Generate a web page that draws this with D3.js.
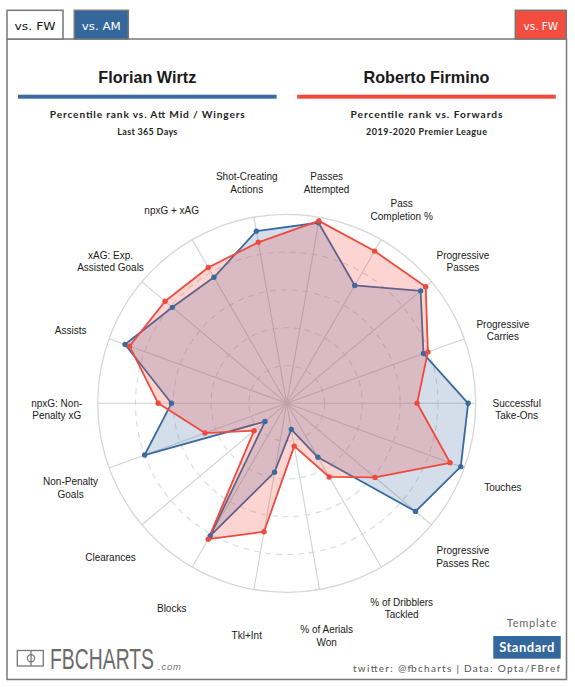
<!DOCTYPE html>
<html>
<head>
<meta charset="utf-8">
<script src="https://cdnjs.cloudflare.com/ajax/libs/d3/7.8.5/d3.min.js"></script>
<style>
  html, body { margin: 0; padding: 0; background: #fff; }
  svg { display: block; }
</style>
</head>
<body>
<script>
// ---------- DATA ----------
const categories = [
  "Passes Attempted", "Pass Completion %", "Progressive Passes", "Progressive Carries",
  "Successful Take-Ons", "Touches", "Progressive Passes Rec", "% of Dribblers Tackled",
  "% of Aerials Won", "Tkl+Int", "Blocks", "Clearances", "Non-Penalty Goals",
  "npxG: Non-Penalty xG", "Assists", "xAG: Exp. Assisted Goals", "npxG + xAG",
  "Shot-Creating Actions"
];
const categoryLines = [
  ["Passes", "Attempted"], ["Pass", "Completion %"], ["Progressive", "Passes"],
  ["Progressive", "Carries"], ["Successful", "Take-Ons"], ["Touches"],
  ["Progressive", "Passes Rec"], ["% of Dribblers", "Tackled"], ["% of Aerials", "Won"],
  ["Tkl+Int"], ["Blocks"], ["Clearances"], ["Non-Penalty", "Goals"],
  ["npxG: Non-", "Penalty xG"], ["Assists"], ["xAG: Exp.", "Assisted Goals"],
  ["npxG + xAG"], ["Shot-Creating", "Actions"]
];
const wirtzValues   = [97, 72, 92.5, 77, 96, 98, 89, 33, 14, 37, 81, 15, 80, 61, 91, 79, 77, 92.5];
const firminoValues = [98, 93, 96, 79.5, 69, 92, 61, 45, 23, 69, 83, 22.5, 46, 68, 88.5, 84, 83, 86.5];
const gridLevels = [20, 40, 60, 80, 100];

const players = [
  { name: "Florian Wirtz", sub1: "Percentile rank vs. Att Mid / Wingers", sub2: "Last 365 Days", values: wirtzValues },
  { name: "Roberto Firmino", sub1: "Percentile rank vs. Forwards", sub2: "2019-2020 Premier League", values: firminoValues }
];
const tabLabels = ["vs. FW", "vs. AM", "vs. FW"];

// ---------- STYLE ----------
const BLUE = "#3a6a9e", RED = "#ef4a3d", TABBLUE = "#34679b", TABRED = "#f34d3f";
const W = 575, H = 687;
const cx = 286.7, cy = 403.3, R = 189;

const svg = d3.select("body").append("svg").attr("width", W).attr("height", H);
svg.append("rect").attr("width", W).attr("height", H).attr("fill", "#fff");

// frame + tabs
svg.append("rect").attr("x", 7).attr("y", 39).attr("width", 559.5).attr("height", 640.5)
  .attr("fill", "none").attr("stroke", "#777").attr("stroke-width", 1.5);
const tabs = [
  { x: 7, w: 56, fill: "#fff", color: "#111", text: tabLabels[0], len: 41 },
  { x: 74.3, w: 54, fill: TABBLUE, color: "#fff", text: tabLabels[1], len: 39 },
  { x: 515.3, w: 51, fill: TABRED, color: "#fff", text: tabLabels[2], len: 34.5 }
];
tabs.forEach(t => {
  svg.append("rect").attr("x", t.x).attr("y", 10.3).attr("width", t.w).attr("height", 28.7)
    .attr("fill", t.fill).attr("stroke", "#777").attr("stroke-width", 1.5);
  svg.append("text").attr("x", t.x + t.w / 2).attr("y", 29.5).attr("text-anchor", "middle")
    .attr("font-family", "DejaVu Sans").attr("font-size", 11).attr("fill", t.color)
    .attr("textLength", t.len).attr("lengthAdjust", "spacingAndGlyphs").text(t.text);
});

// headers
const headerX = [147.3, 426.5];
const lineColors = [BLUE, RED];
const sub1Len = [195, 152], sub2Len = [60, 121];
players.forEach((p, i) => {
  const x = headerX[i];
  svg.append("text").attr("x", x).attr("y", 82.7).attr("text-anchor", "middle")
    .attr("font-family", "Liberation Sans, Arial, sans-serif").attr("font-weight", "bold")
    .attr("font-size", 16.2).attr("fill", "#1a1a1a").text(p.name);
  svg.append("rect").attr("x", x - 129.3).attr("y", 94.7).attr("width", 258.6).attr("height", 4)
    .attr("fill", lineColors[i]);
  svg.append("text").attr("x", x).attr("y", 118.3).attr("text-anchor", "middle")
    .attr("font-family", "Lato, sans-serif").attr("font-weight", "bold")
    .attr("font-size", 10.2).attr("fill", "#222")
    .attr("textLength", sub1Len[i]).attr("lengthAdjust", "spacing").text(p.sub1);
  svg.append("text").attr("x", x).attr("y", 135.3).attr("text-anchor", "middle")
    .attr("font-family", "Lato, sans-serif").attr("font-weight", "bold")
    .attr("font-size", 9).attr("fill", "#222")
    .attr("textLength", sub2Len[i]).attr("lengthAdjust", "spacing").text(p.sub2);
});

// ---------- RADAR ----------
const n = categories.length;
const rScale = d3.scaleLinear().domain([0, 100]).range([0, R]);
const angle = d3.scaleLinear().domain([0, n]).range([0, 2 * Math.PI]);
const axisAngle = i => angle(i + 0.5);

const g = svg.append("g").attr("transform", `translate(${cx},${cy})`);

// grid circles
g.selectAll("circle.grid").data(gridLevels).enter().append("circle")
  .attr("class", "grid").attr("r", d => rScale(d)).attr("fill", "none")
  .attr("stroke", d => d === 100 ? "#d6d6d6" : "#dadada")
  .attr("stroke-width", d => d === 100 ? 1.3 : 1.1)
  .attr("stroke-dasharray", d => d === 100 ? null : "6,5");

// spokes
g.selectAll("line.spoke").data(categories).enter().append("line")
  .attr("class", "spoke")
  .attr("x1", 0).attr("y1", 0)
  .attr("x2", (d, i) => rScale(100) * Math.sin(axisAngle(i)))
  .attr("y2", (d, i) => -rScale(100) * Math.cos(axisAngle(i)))
  .attr("stroke", "#d2d2d2").attr("stroke-width", 1.1);

const radial = d3.lineRadial()
  .angle((d, i) => axisAngle(i))
  .radius(d => rScale(d))
  .curve(d3.curveLinearClosed);

const series = [
  { values: wirtzValues, color: BLUE, fill: "rgba(56,104,159,0.22)" },
  { values: firminoValues, color: RED, fill: "rgba(240,75,63,0.23)" }
];
series.forEach(s => {
  g.append("path").attr("d", radial(s.values)).attr("fill", s.fill)
    .attr("stroke", s.color).attr("stroke-width", 1.8).attr("stroke-linejoin", "round");
});
series.forEach(s => {
  g.selectAll(null).data(s.values).enter().append("circle")
    .attr("cx", (d, i) => rScale(d) * Math.sin(axisAngle(i)))
    .attr("cy", (d, i) => -rScale(d) * Math.cos(axisAngle(i)))
    .attr("r", 2.7).attr("fill", s.color);
});

// axis labels
const labelR = 230, lineH = 12.5;
categoryLines.forEach((lines, i) => {
  const a = axisAngle(i);
  const px = labelR * Math.sin(a), py = -labelR * Math.cos(a) + 6;
  const t = g.append("text").attr("text-anchor", "middle")
    .attr("font-family", "Liberation Sans, Arial, sans-serif").attr("font-size", 10)
    .attr("fill", "#1a1a1a");
  lines.forEach((ln, k) => {
    t.append("tspan").attr("x", px)
      .attr("y", py + (k - (lines.length - 1) / 2) * lineH)
      .attr("dominant-baseline", "central").text(ln);
  });
});

// ---------- FOOTER ----------
const logo = svg.append("g");
logo.append("rect").attr("x", 17.3).attr("y", 650.5).attr("width", 26).attr("height", 15.5)
  .attr("fill", "none").attr("stroke", "#777").attr("stroke-width", 1.3);
logo.append("line").attr("x1", 31).attr("x2", 31).attr("y1", 650.5).attr("y2", 666)
  .attr("stroke", "#777").attr("stroke-width", 1.3);
logo.append("circle").attr("cx", 31).attr("cy", 658.2).attr("r", 3.6)
  .attr("fill", "none").attr("stroke", "#777").attr("stroke-width", 1.2);
const logoText = logo.append("g").attr("transform", "translate(50,669.3) scale(0.665,1)");
const lt = logoText.append("text").attr("x", 0).attr("y", 0)
  .attr("font-family", "Liberation Sans, Arial, sans-serif").attr("font-size", 29)
  .attr("fill", "#6a6a6a").text("FBCHARTS");
// fit to the logo's width through a scale of the group
const natural = lt.node().getComputedTextLength();
logoText.attr("transform", `translate(50,669.3) scale(${104 / natural},1)`);
logo.append("text").attr("x", 158).attr("y", 670)
  .attr("font-family", "Liberation Sans, Arial, sans-serif").attr("font-style", "italic")
  .attr("font-size", 9.5).attr("fill", "#777").attr("letter-spacing", 0.8).text(".com");

svg.append("text").attr("x", 557).attr("y", 627.3).attr("text-anchor", "end")
  .attr("font-family", "Lato, sans-serif").attr("font-size", 11).attr("letter-spacing", 0.8)
  .attr("fill", "#666").text("Template");
svg.append("rect").attr("x", 493.3).attr("y", 636).attr("width", 67.4).attr("height", 22.7)
  .attr("fill", TABBLUE);
svg.append("text").attr("x", 527).attr("y", 651.8).attr("text-anchor", "middle")
  .attr("font-family", "Lato, sans-serif").attr("font-weight", "bold").attr("font-size", 13)
  .attr("fill", "#fff").attr("letter-spacing", 0.5).text("Standard");
svg.append("text").attr("x", 560).attr("y", 672.3).attr("text-anchor", "end")
  .attr("font-family", "Lato, sans-serif").attr("font-size", 10)
  .attr("fill", "#555").attr("textLength", 207).attr("lengthAdjust", "spacing")
  .text("twitter: @fbcharts | Data: Opta/FBref");
</script>
</body>
</html>
